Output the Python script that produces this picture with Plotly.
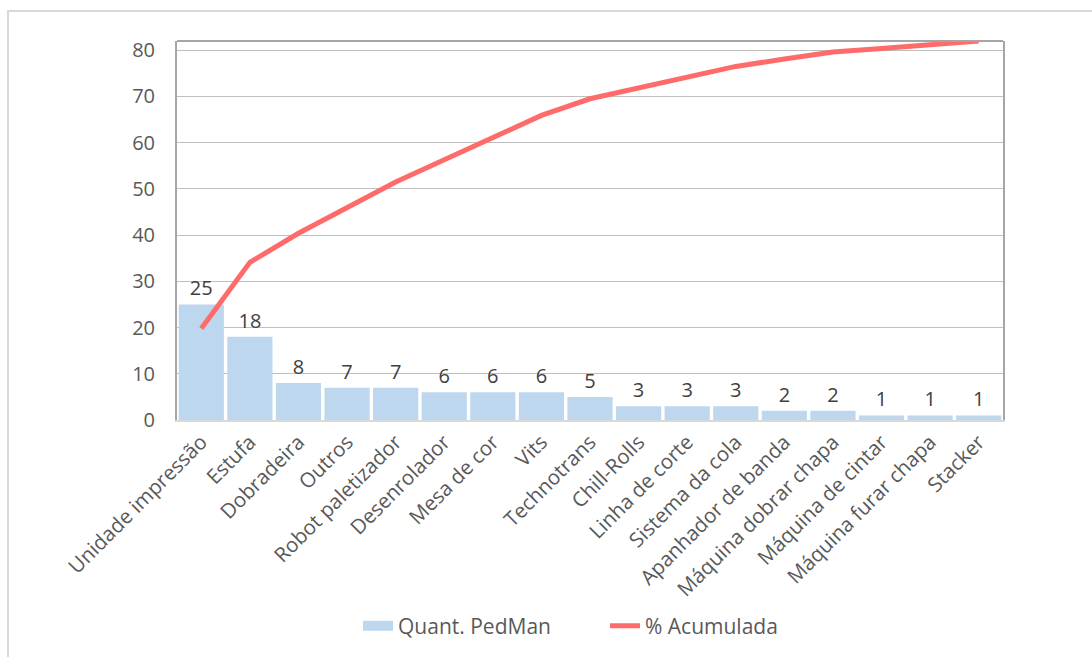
import plotly.graph_objects as go

categorias = [
    "Unidade impressão", "Estufa", "Dobradeira", "Outros", "Robot paletizador",
    "Desenrolador", "Mesa de cor", "Vits", "Technotrans", "Chill-Rolls",
    "Linha de corte", "Sistema da cola", "Apanhador de banda",
    "Máquina dobrar chapa", "Máquina de cintar", "Máquina furar chapa", "Stacker",
]
quant_pedman = [25, 18, 8, 7, 7, 6, 6, 6, 5, 3, 3, 3, 2, 2, 1, 1, 1]
pct_acumulada = [19.8, 34.1, 40.4, 46.0, 51.5, 56.3, 61.1, 65.9, 69.5,
                 71.9, 74.2, 76.5, 78.1, 79.6, 80.4, 81.2, 82.0]

FONT = "Open Sans, DejaVu Sans, sans-serif"
BAR_COLOR = "#BDD7EE"
LINE_COLOR = "#FF6B6B"

fig = go.Figure()
fig.add_trace(go.Bar(
    x=categorias, y=quant_pedman, name="Quant. PedMan", showlegend=False,
    marker=dict(color=BAR_COLOR, line=dict(width=0)),
    text=[str(v) for v in quant_pedman], textposition="outside",
    textfont=dict(size=20, color="#404040", family=FONT),
    cliponaxis=False,
))
# wide rectangular legend key for the bars
fig.add_trace(go.Scatter(
    x=[None], y=[None], name="Quant. PedMan", mode="lines",
    line=dict(color=BAR_COLOR, width=15),
))
fig.add_trace(go.Scatter(
    x=categorias, y=pct_acumulada, name="% Acumulada", mode="lines",
    line=dict(color=LINE_COLOR, width=5),
))

# outer chart border
fig.add_shape(type="rect", xref="paper", yref="paper",
              x0=-169 / 826, x1=1100 / 826, y0=-250 / 380, y1=(380 + 30) / 380,
              line=dict(color="#D9D9D9", width=2), fillcolor="rgba(0,0,0,0)")

fig.update_layout(
    width=1092, height=657,
    margin=dict(l=177, r=89, t=41, b=236),
    paper_bgcolor="white", plot_bgcolor="white",
    font=dict(family=FONT, color="#595959"),
    bargap=0.07,
    showlegend=True,
    legend=dict(orientation="h", x=(358 - 177) / 826, xanchor="left",
                y=-0.54, yanchor="middle",
                font=dict(size=21, color="#595959"),
                entrywidth=202, entrywidthmode="pixels"),
)
fig.update_xaxes(
    tickangle=-45, tickfont=dict(size=20.5, color="#595959"),
    showline=True, linecolor="#D9D9D9", linewidth=2, mirror=False,
    ticks="", showgrid=False,
)
fig.update_yaxes(
    range=[0, 82], dtick=10, tick0=0,
    tickfont=dict(size=20, color="#595959"),
    ticklabelstandoff=16,
    showgrid=True, gridcolor="#BFBFBF", gridwidth=1,
    showline=True, linecolor="#A6A6A6", linewidth=2, mirror=True,
    ticks="", zeroline=False,
)
# top border of the plot area
fig.add_shape(type="line", xref="paper", yref="paper", x0=0, x1=1, y0=1, y1=1,
              line=dict(color="#A6A6A6", width=2))

fig.write_html("out.html")
